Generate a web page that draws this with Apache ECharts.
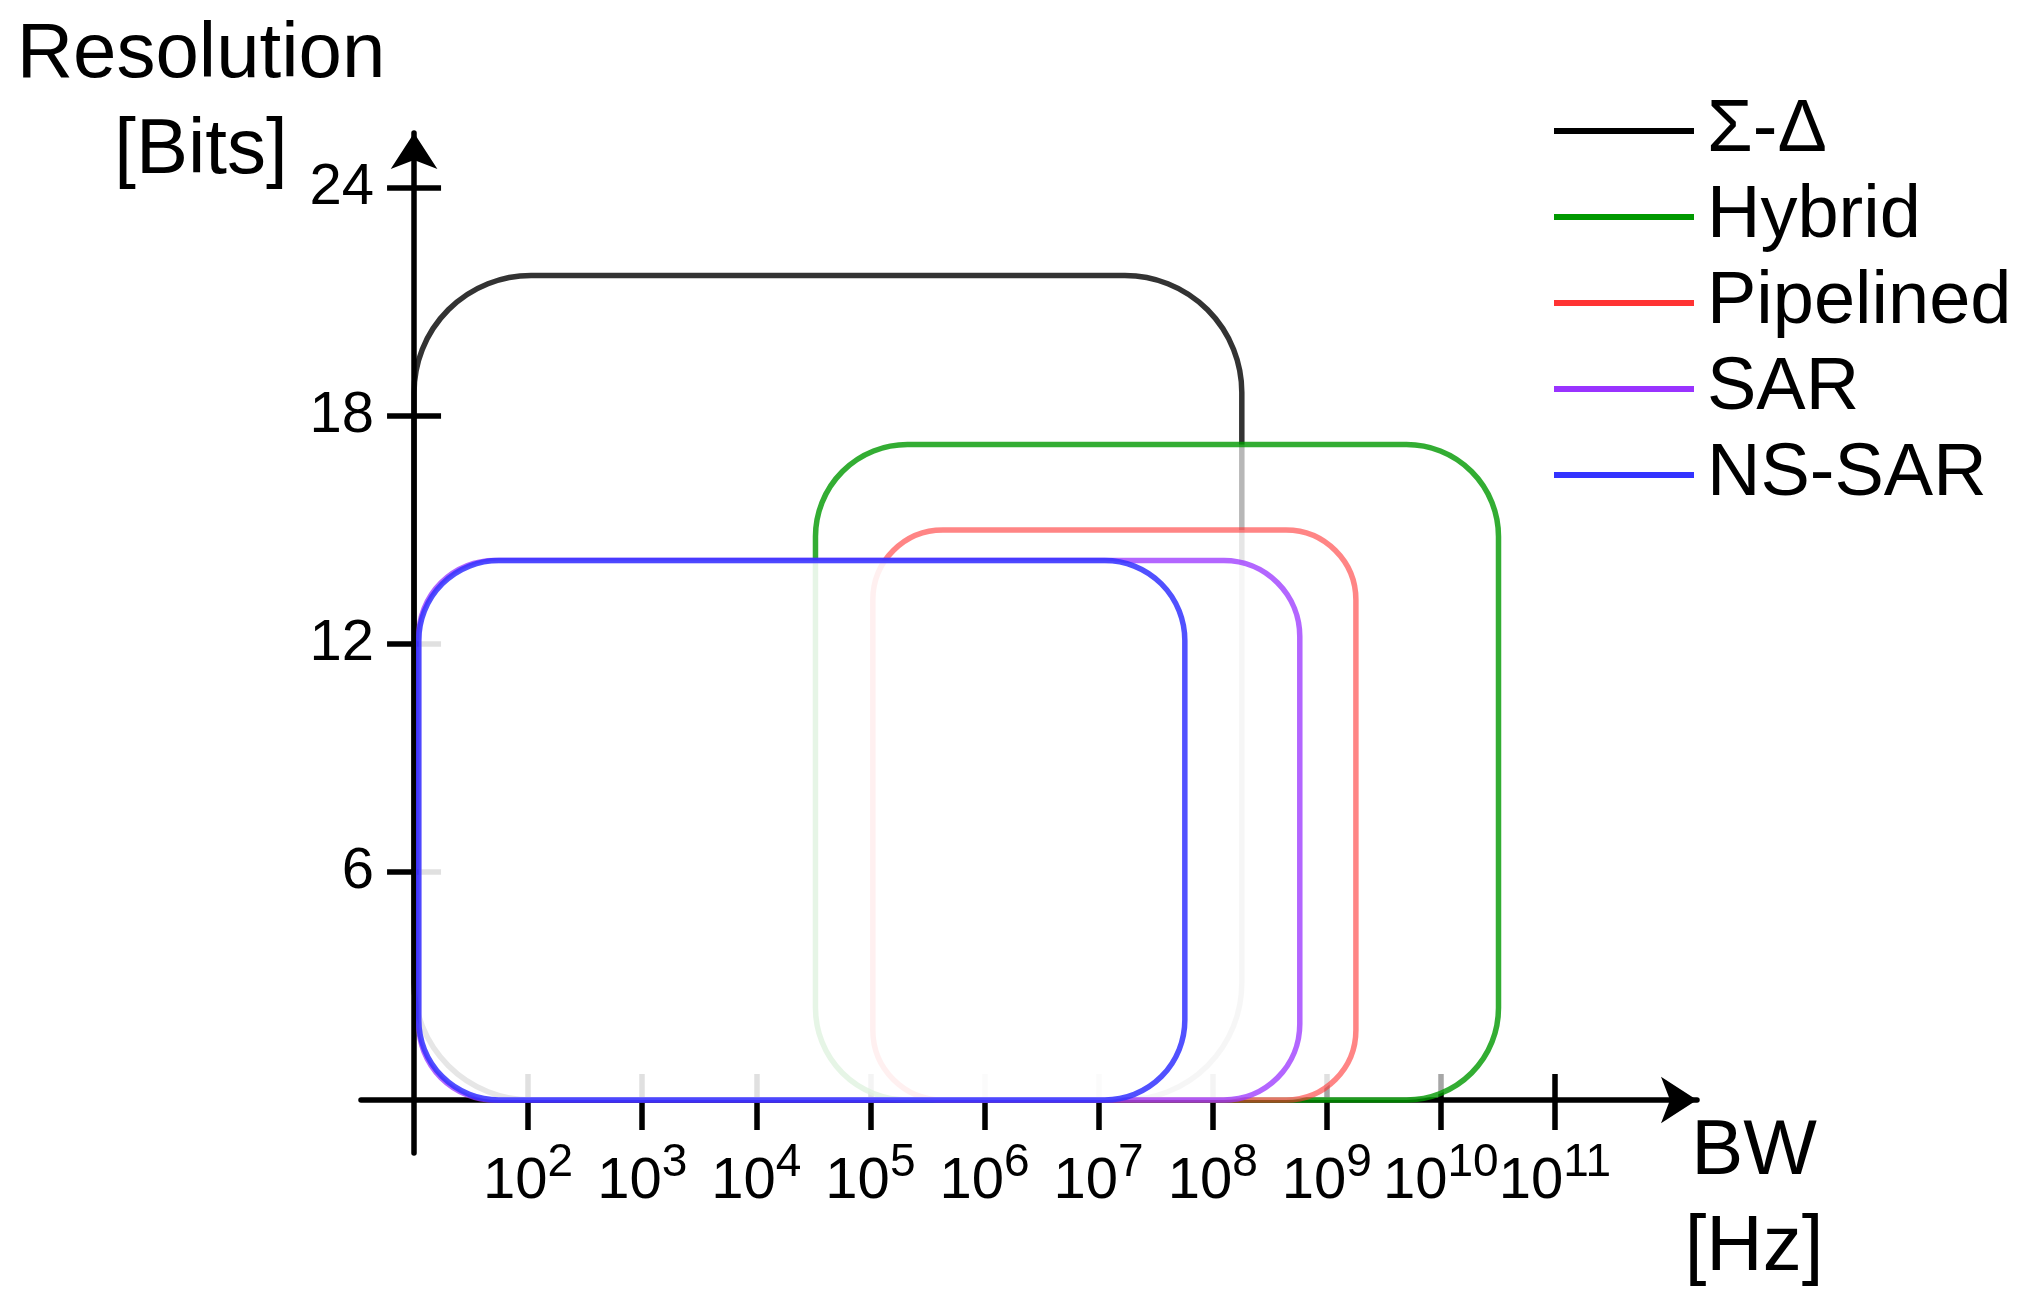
<!DOCTYPE html>
<html>
<head>
<meta charset="utf-8">
<script src="https://cdn.jsdelivr.net/npm/echarts@6/dist/echarts.min.js"></script>
<style>
  html, body { margin: 0; padding: 0; background: #fff; }
  #chart { width: 2042px; height: 1311px; }
</style>
</head>
<body>
<div id="chart"></div>
<script>
// ADC architectures: resolution vs bandwidth, each one a rounded box
const techNames = ['Σ-Δ', 'Hybrid', 'Pipelined', 'SAR', 'NS-SAR'];
const bwLow = [10, 3.3e4, 1.05e5, 11, 11];            // Hz
const bwHigh = [1.8e8, 3.2e10, 1.8e9, 5.8e8, 5.7e7];  // Hz
const bitsLow = [0, 0, 0, 0, 0];
const bitsHigh = [21.7, 17.25, 15, 14.2, 14.2];

const bwTicks = [1e2, 1e3, 1e4, 1e5, 1e6, 1e7, 1e8, 1e9, 1e10, 1e11];
const bitTicks = [6, 12, 18, 24];

// styles
const FONT = '"Liberation Sans", Arial, sans-serif';
const legendColors = ['#000000', '#009900', '#ff3333', '#9933ff', '#3333ff'];
const boxStroke = ['rgba(0,0,0,0.8)', 'rgba(0,153,0,0.8)', 'rgba(255,51,51,0.6)', 'rgba(153,51,255,0.75)', 'rgba(51,51,255,0.85)'];
const boxFill = ['rgba(255,255,255,0)', 'rgba(255,255,255,0.65)', 'rgba(255,255,255,0.65)', 'rgba(255,255,255,0.65)', 'rgba(255,255,255,0.65)'];
const boxRadius = [117, 92, 70, 76, 80];
const LW = 5.5;

// axis extent (the axes run a bit past the data, like the drawing)
const xMin = Math.pow(10, 0.535);
const xMax = Math.pow(10, 12.245);
const yMin = -1.395;
const yMax = 25.45;
const gridLeft = 361, gridRight = 345, gridTop = 133, gridBottom = 158;

const chart = echarts.init(document.getElementById('chart'));

// y axis sits on 10^1, not on the left edge of the grid
const gridWidth = chart.getWidth() - gridLeft - gridRight;
const yAxisShift = -gridWidth * (1 - Math.log10(xMin)) / (Math.log10(xMax) - Math.log10(xMin));

function renderBox(params, api) {
  const i = params.seriesIndex;
  const p0 = api.coord([api.value(0), api.value(3)]);
  const p1 = api.coord([api.value(1), api.value(2)]);
  return {
    type: 'rect',
    z2: i,
    shape: { x: p0[0], y: p0[1], width: p1[0] - p0[0], height: p1[1] - p0[1], r: boxRadius[i] },
    style: { fill: boxFill[i], stroke: boxStroke[i], lineWidth: LW }
  };
}

const series = techNames.map((name, i) => ({
  name: name,
  type: 'custom',
  renderItem: renderBox,
  itemStyle: { color: legendColors[i] },
  encode: { x: [0, 1], y: [2, 3] },
  data: [[bwLow[i], bwHigh[i], bitsLow[i], bitsHigh[i]]]
}));

const tickLine = { color: '#000', width: LW };
const arrowLine = {
  show: true,
  onZero: true,
  symbol: ['none', 'arrow'],
  symbolSize: [35, 36],
  lineStyle: { color: '#000', width: LW }
};

chart.setOption({
  animation: false,
  backgroundColor: '#fff',
  grid: { left: gridLeft, right: gridRight, top: gridTop, bottom: gridBottom, containLabel: false, outerBoundsMode: 'none' },
  legend: {
    orient: 'vertical',
    left: 1554,
    top: 94,
    padding: 0,
    itemGap: 12,
    itemWidth: 140,
    itemHeight: 6,
    icon: 'rect',
    selectedMode: false,
    textStyle: { fontSize: 74, lineHeight: 74, color: '#000', fontFamily: FONT, padding: [0, 0, 0, 8] },
    data: techNames.map((n, i) => ({ name: n, itemStyle: { color: legendColors[i] } }))
  },
  graphic: [
    {
      type: 'text', x: 201, y: 7,
      style: { text: 'Resolution\n[Bits]', fill: '#000', fontSize: 78, fontFamily: FONT, lineHeight: 96, align: 'center', verticalAlign: 'top' }
    },
    {
      type: 'text', x: 1754, y: 1104,
      style: { text: 'BW\n[Hz]', fill: '#000', fontSize: 78, fontFamily: FONT, lineHeight: 96, align: 'center', verticalAlign: 'top' }
    }
  ],
  xAxis: [
    {
      type: 'log', logBase: 10, min: xMin, max: xMax, position: 'bottom',
      axisLine: arrowLine,
      axisTick: { show: true, customValues: bwTicks, length: 30, inside: false, lineStyle: tickLine },
      axisLabel: {
        show: true,
        customValues: bwTicks,
        margin: 0,
        formatter: v => '{b|10}{s|' + Math.round(Math.log10(v)) + '}',
        rich: {
          b: { fontSize: 58, lineHeight: 58, color: '#000', fontFamily: FONT, verticalAlign: 'bottom' },
          s: { fontSize: 46, lineHeight: 46, color: '#000', fontFamily: FONT, verticalAlign: 'bottom', padding: [0, 0, 25, 0] }
        }
      },
      splitLine: { show: false }
    },
    {
      // upper half of the crossing ticks
      type: 'log', logBase: 10, min: xMin, max: xMax, position: 'bottom',
      axisLine: { show: false, onZero: true },
      axisTick: { show: true, customValues: bwTicks, length: 26, inside: true, lineStyle: tickLine },
      axisLabel: { show: false },
      splitLine: { show: false }
    }
  ],
  yAxis: [
    {
      type: 'value', min: yMin, max: yMax, position: 'left', offset: yAxisShift,
      axisLine: Object.assign({}, arrowLine, { onZero: false }),
      axisTick: { show: true, customValues: bitTicks, length: 27, inside: false, lineStyle: tickLine },
      axisLabel: { show: true, customValues: bitTicks, margin: 40, fontSize: 58, color: '#000', fontFamily: FONT },
      splitLine: { show: false }
    },
    {
      type: 'value', min: yMin, max: yMax, position: 'left', offset: yAxisShift,
      axisLine: { show: false, onZero: false },
      axisTick: { show: true, customValues: bitTicks, length: 27, inside: true, lineStyle: tickLine },
      axisLabel: { show: false },
      splitLine: { show: false }
    }
  ],
  series: series
});
</script>
</body>
</html>
